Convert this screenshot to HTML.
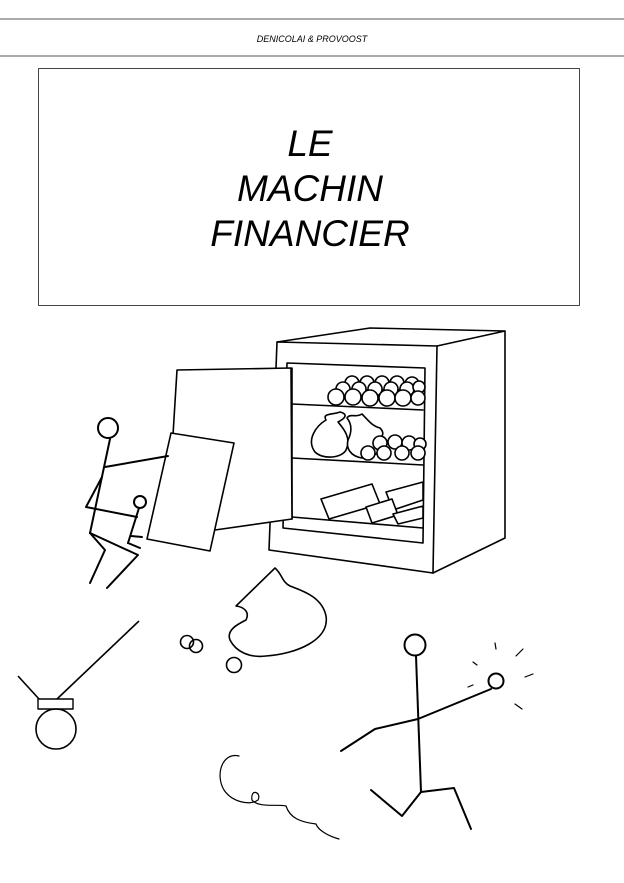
<!DOCTYPE html>
<html><head><style>
html,body{margin:0;padding:0;background:#fff;}
body{width:624px;height:883px;position:relative;overflow:hidden;font-family:"Liberation Sans",sans-serif;}
</style></head><body>
<svg width="624" height="883" viewBox="0 0 624 883" xmlns="http://www.w3.org/2000/svg" style="position:absolute;left:0;top:0">
<g stroke="#000" fill="none" stroke-linejoin="round" stroke-linecap="round">
<line x1="0" y1="19" x2="624" y2="19" stroke="#555" stroke-width="1"/>
<line x1="0" y1="56" x2="624" y2="56" stroke="#555" stroke-width="1"/>
<rect x="38.5" y="68.5" width="541" height="237" stroke="#444" stroke-width="1"/>
</g>
<text x="312" y="42" text-anchor="middle" font-family="Liberation Sans" font-style="italic" font-size="9" fill="#000">DENICOLAI &amp; PROVOOST</text>
<g font-family="Liberation Sans" font-style="italic" font-size="37" fill="#000" text-anchor="middle">
<text x="310" y="156">LE</text>
<text x="310" y="201">MACHIN</text>
<text x="310" y="246">FINANCIER</text>
</g>
<g stroke="#000" fill="none" stroke-width="1.6" stroke-linejoin="round" stroke-linecap="round">
<path d="M277,342 L437,346 L433,573 L269,550 Z"/>
<path d="M277,342 L370,328 L505,331 L437,346"/>
<path d="M505,331 L505,538 L433,573"/>
<path d="M287,363 L425,368 L423,543 L283,528 L287,363"/>
<line x1="292" y1="404" x2="423" y2="410"/>
<line x1="292" y1="458" x2="423" y2="465"/>
<line x1="292" y1="517" x2="423" y2="528"/>
<line x1="292" y1="368" x2="292" y2="519"/>
<g fill="#fff">
<circle cx="352" cy="383" r="7"/><circle cx="367" cy="383" r="7"/><circle cx="382" cy="383" r="7"/><circle cx="397" cy="383" r="7"/><circle cx="412" cy="384" r="7"/>
<circle cx="343" cy="389" r="7"/><circle cx="359" cy="389" r="7"/><circle cx="375" cy="389" r="7"/><circle cx="391" cy="389" r="7"/><circle cx="407" cy="389" r="7"/><circle cx="419" cy="387" r="6"/>
<circle cx="336" cy="397" r="8"/><circle cx="353" cy="397" r="8"/><circle cx="370" cy="398" r="8"/><circle cx="387" cy="398" r="8"/><circle cx="403" cy="398" r="8"/><circle cx="418" cy="398" r="7"/>
<path d="M340,412 C332,415 322,413 326,420 C316,426 306,440 315,452 C323,460 342,458 346,450 C352,438 343,428 338,422 C346,418 348,414 340,412 Z"/>
<path d="M362,414 C356,418 350,413 347,418 C352,424 352,432 348,440 C346,448 350,456 362,458 C380,458 382,446 378,440 C384,436 384,432 380,428 C372,426 368,420 362,414 Z"/>
<circle cx="380" cy="443" r="7"/><circle cx="395" cy="442" r="7"/><circle cx="409" cy="443" r="7"/><circle cx="420" cy="444" r="6"/>
<circle cx="368" cy="453" r="7"/><circle cx="384" cy="453" r="7"/><circle cx="402" cy="453" r="7"/><circle cx="418" cy="453" r="7"/>
<path d="M321,499 L372,484 L380,504 L329,519 Z"/>
<path d="M386,492 L423,482 L423,500 L393,510 Z"/>
<path d="M366,507 L392,499 L398,515 L372,523 Z"/>
<path d="M393,514 L423,506 L423,518 L398,524 Z"/>
<path d="M173,435 L177,370 L291,368 L292,519 L215,530"/>
<path d="M171,433 L234,443 L210,551 L147,539 Z"/>
</g>
</g>
<g stroke="#000" fill="none" stroke-width="2" stroke-linejoin="round" stroke-linecap="round">
<circle cx="108" cy="428" r="10"/>
<path d="M110,439 L90,533"/>
<path d="M105,467 L168,456"/>
<path d="M102,477 L86,507 L137,517"/>
<path d="M90,533 L105,550 L90,583"/>
<path d="M90,533 L138,555 L107,588"/>
<circle cx="140" cy="502" r="6"/>
<path d="M139,508 L128,543"/>
<path d="M131,536 L142,537"/>
<path d="M128,543 L140,548"/>
<circle cx="415" cy="645" r="10.5"/>
<path d="M416,656 L421,792"/>
<path d="M418,719 L491,689"/>
<circle cx="496" cy="681" r="7.5"/>
<path d="M418,719 L375,729 L341,751"/>
<path d="M421,792 L402,816 L371,790"/>
<path d="M421,792 L454,788 L471,829"/>
</g>
<g stroke="#000" fill="none" stroke-width="1.2" stroke-linecap="round">
<path d="M495,643 L496,649"/><path d="M516,656 L523,649"/><path d="M525,677 L533,674"/><path d="M515,704 L522,709"/><path d="M468,687 L473,685"/><path d="M473,662 L477,665"/>
</g>
<g stroke="#000" fill="none" stroke-width="1.6" stroke-linejoin="round">
<path d="M275,568 L236,606 C244,607 250,612 246,620 C238,624 226,630 230,640 C236,652 250,658 266,656 C296,654 330,640 326,616 C322,596 300,590 290,586 C282,582 282,574 275,568 Z"/>
<circle cx="187" cy="642" r="6.5"/>
<circle cx="196" cy="646" r="6.5"/>
<circle cx="234" cy="665" r="7.5"/>
<path d="M139,621 L57,699"/>
<path d="M18,676 L39,699"/>
<rect x="38" y="699" width="35" height="10" stroke-width="1.4"/>
<circle cx="56" cy="729" r="20"/>
</g>
<path d="M239,756 C222,752 215,775 224,790 C232,802 250,806 258,800 C262,792 250,788 252,800 C258,808 278,804 286,806 C290,818 300,822 316,824 C318,830 328,836 339,839" stroke="#000" fill="none" stroke-width="1.2" stroke-linecap="round"/>
</svg>
</body></html>
